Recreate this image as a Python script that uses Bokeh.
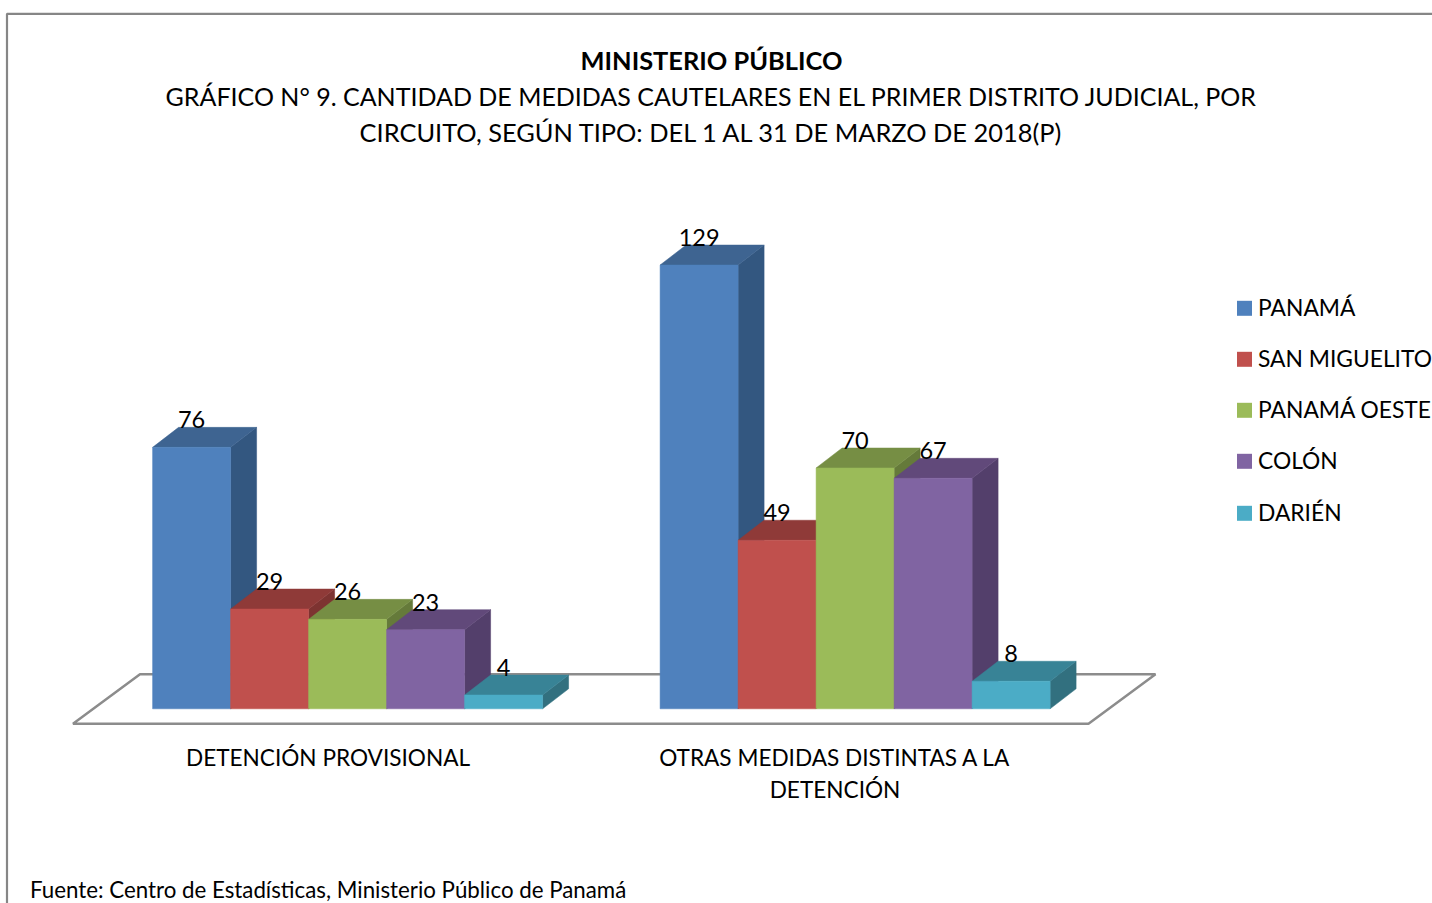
from bokeh.plotting import figure
from bokeh.models import Range1d
from bokeh.core.properties import value
from bokeh.embed import file_html
from bokeh.resources import INLINE

title_lines = ["MINISTERIO PÚBLICO",
               "GRÁFICO N° 9. CANTIDAD DE MEDIDAS CAUTELARES EN EL PRIMER DISTRITO JUDICIAL, POR",
               "CIRCUITO, SEGÚN TIPO: DEL 1 AL 31 DE MARZO DE 2018(P)"]
footer = "Fuente: Centro de Estadísticas, Ministerio Público de Panamá"
categories = [["DETENCIÓN PROVISIONAL"], ["OTRAS MEDIDAS DISTINTAS A LA", "DETENCIÓN"]]
series = ["PANAMÁ", "SAN MIGUELITO", "PANAMÁ OESTE", "COLÓN", "DARIÉN"]
panama = [76, 129]
san_miguelito = [29, 49]
panama_oeste = [26, 70]
colon = [23, 67]
darien = [4, 8]
values = [panama, san_miguelito, panama_oeste, colon, darien]

front_colors = ["#4F81BD", "#C0504D", "#9BBB59", "#8064A2", "#4BACC6"]
top_colors = ["#3E6491", "#8F3A38", "#768E44", "#61497A", "#388396"]
side_colors = ["#335780", "#7D3331", "#657A3A", "#533F6B", "#32707F"]

FONT = value("Lato")
PX_PER_UNIT = 3.44
BASE_PX = 709.0
def vy(px):
    return (BASE_PX - px) / PX_PER_UNIT

BAR_W, DX = 78.0, 26.0
DY = 20.0 / PX_PER_UNIT
GROUP_LEFT = [152.6, 660.1]
TEXT_SHIFT = 1.3

p = figure(width=1432, height=903, output_backend="svg", toolbar_location=None,
           x_range=Range1d(0.5, 1432.5), y_range=Range1d(vy(903.7), vy(0.7)),
           min_border=0, outline_line_color=None,
           background_fill_color="white", border_fill_color="white")
p.axis.visible = False
p.grid.visible = False

GRAY = "#8C8C8C"
# chart frame
p.line([1433, 7, 7], [vy(14), vy(14), vy(904)], line_color="#868686", line_width=2.2)
# floor
p.patch([73, 1088.5, 1155.5, 140], [vy(724), vy(724), vy(674.5), vy(674.5)],
        fill_color="white", line_color=GRAY, line_width=2.5)

for g, left0 in enumerate(GROUP_LEFT):
    for s, vals in enumerate(values):
        l = left0 + s * BAR_W
        r = l + BAR_W
        v = vals[g]
        p.patch([r, r + DX, r + DX, r], [0, DY, v + DY, v],
                fill_color=side_colors[s], line_color=side_colors[s], line_width=0.5)
        p.patch([l, r, r + DX, l + DX], [v, v, v + DY, v + DY],
                fill_color=top_colors[s], line_color=top_colors[s], line_width=0.5)
        p.quad(left=l, right=r, bottom=0, top=v,
               fill_color=front_colors[s], line_color=front_colors[s], line_width=0.5)

def txt(x, px, s, size=24, align="center", style="normal"):
    p.text([x], [vy(px - TEXT_SHIFT)], text=[s], text_font=FONT, text_font_size=f"{size}px",
           text_align=align, text_baseline="middle", text_color="black",
           text_font_style=style)

for g, left0 in enumerate(GROUP_LEFT):
    for s, vals in enumerate(values):
        x = left0 + s * BAR_W + 39
        txt(x, BASE_PX - vals[g] * PX_PER_UNIT - 26.3, str(vals[g]), size=23.5)

txt(711.5, 61, title_lines[0], size=25.4, style="bold")
txt(711.5, 97, title_lines[1], size=25)
txt(712, 133, title_lines[2], size=25.4)

CAT_X = [328, 835]
for cat, x in zip(categories, CAT_X):
    for i, line in enumerate(cat):
        txt(x, 759 + i * 32, line, size=22.6)

LEG_Y = [308, 359, 410, 461, 513]
for name, col, y in zip(series, front_colors, LEG_Y):
    p.quad(left=1237, right=1252, bottom=vy(y + 8), top=vy(y - 7),
           fill_color=col, line_color=None)
    txt(1258, y, name, size=22.8, align="left")

txt(30, 891, footer, size=22.3, align="left")

open("out.html", "w").write(file_html(p, INLINE))
